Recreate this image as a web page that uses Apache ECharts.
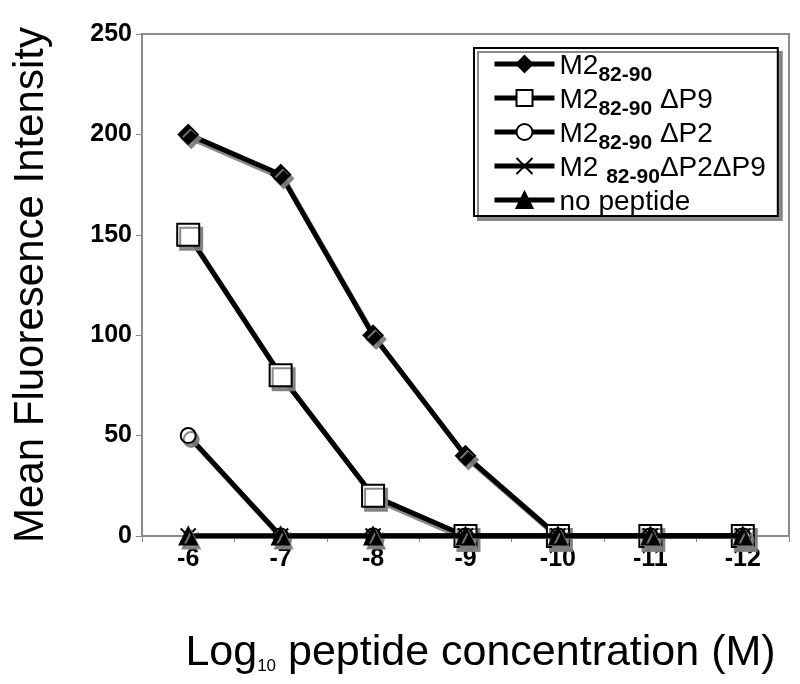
<!DOCTYPE html>
<html>
<head>
<meta charset="utf-8">
<script src="https://cdn.jsdelivr.net/npm/echarts@6/dist/echarts.min.js"></script>
<style>html,body{margin:0;padding:0;background:#fff}#c{width:800px;height:684px}</style>
</head>
<body>
<div id="c"></div>
<script>
const categories = ['-6', '-7', '-8', '-9', '-10', '-11', '-12'];
const seriesNames = ['M2 82-90', 'M2 82-90 ΔP9', 'M2 82-90 ΔP2', 'M2 82-90 ΔP2ΔP9', 'no peptide'];
const m2 = [200, 180, 100, 40, 0, 0, 0];
const m2dP9 = [150, 80, 20, 0, 0, 0, 0];
const m2dP2 = [50, 0, 0, 0, 0, 0, 0];
const m2dP2dP9 = [0, 0, 0, 0, 0, 0, 0];
const noPeptide = [0, 0, 0, 0, 0, 0, 0];
const yTicks = [0, 50, 100, 150, 200, 250];

const FONT = '"Liberation Sans", Arial, sans-serif';
const legendLabels = {
  'M2 82-90': '{a|M2}{s|82-90}',
  'M2 82-90 ΔP9': '{a|M2}{s|82-90}{a| ΔP9}',
  'M2 82-90 ΔP2': '{a|M2}{s|82-90}{a| ΔP2}',
  'M2 82-90 ΔP2ΔP9': '{a|M2 }{s|82-90}{a|ΔP2ΔP9}',
  'no peptide': '{a|no peptide}'
};
const shadow = {shadowColor: 'rgba(125,125,125,0.9)', shadowOffsetX: 3, shadowOffsetY: 4, shadowBlur: 0};
function mk(name, data, symbol, size, fill, z) {
  return {
    name, type: 'line', data, symbol, symbolSize: size, z,
    lineStyle: Object.assign({color: '#000', width: 5}, shadow),
    itemStyle: Object.assign({color: fill, borderColor: '#000', borderWidth: 2}, shadow),
    emphasis: {disabled: true},
    animation: false
  };
}
const chart = echarts.init(document.getElementById('c'), null, {renderer: 'canvas'});
chart.setOption({
  backgroundColor: '#fff',
  animation: false,
  grid: {left: 142, right: 11, top: 34, bottom: 148, show: true, borderColor: '#8a8a8a', borderWidth: 2},
  xAxis: {
    type: 'category', data: categories, boundaryGap: true,
    axisLine: {lineStyle: {color: '#8a8a8a', width: 2}},
    axisTick: {show: true, length: 6, lineStyle: {color: '#8a8a8a', width: 1}},
    axisLabel: {fontSize: 25, fontWeight: 'bold', color: '#000', fontFamily: FONT, margin: 11},
    name: 'Log{s|10} peptide concentration (M)',
    nameLocation: 'middle', nameGap: 96,
    nameTextStyle: {fontSize: 43, color: '#000', fontFamily: FONT, padding: [0, 0, 0, 30],
      rich: {s: {fontSize: 17, fontFamily: FONT, color: '#000', verticalAlign: 'bottom'}}}
  },
  yAxis: {
    type: 'value', min: 0, max: 250, interval: 50,
    axisLine: {show: true, lineStyle: {color: '#8a8a8a', width: 2}},
    axisTick: {show: true, length: 6, lineStyle: {color: '#8a8a8a', width: 1}},
    splitLine: {show: false},
    axisLabel: {fontSize: 25, fontWeight: 'bold', color: '#000', fontFamily: FONT, margin: 10,
      formatter: v => yTicks.includes(v) ? String(v) : ''},
    name: 'Mean Fluoresence Intensity',
    nameLocation: 'middle', nameGap: 90,
    nameTextStyle: {fontSize: 42, color: '#000', fontFamily: FONT}
  },
  legend: {
    left: 474, top: 48, orient: 'vertical',
    data: seriesNames,
    itemWidth: 60, itemHeight: 20, itemGap: 0,
    padding: [4, 12, 0, 18],
    backgroundColor: '#fff', borderColor: '#000', borderWidth: 2,
    shadowColor: 'rgba(125,125,125,0.9)', shadowOffsetX: 4, shadowOffsetY: 4, shadowBlur: 0,
    selectedMode: false,
    lineStyle: {width: 5, color: '#000'},
    formatter: n => legendLabels[n],
    textStyle: {
      color: '#000', fontFamily: FONT, fontSize: 28,
      rich: {
        a: {fontSize: 28, fontFamily: FONT, color: '#000', lineHeight: 24, verticalAlign: 'top'},
        s: {fontSize: 21, fontWeight: 'bold', fontFamily: FONT, color: '#000', lineHeight: 16, verticalAlign: 'top', padding: [13, 0, 0, 0]}
      }
    }
  },
  series: [
    mk(seriesNames[0], m2, 'diamond', 19, '#000', 2),
    mk(seriesNames[1], m2dP9, 'rect', 22, '#fff', 3),
    mk(seriesNames[2], m2dP2, 'circle', 15, '#fff', 4),
    mk(seriesNames[3], m2dP2dP9, 'path://M0,0L10,10M10,0L0,10', 15, 'none', 5),
    mk(seriesNames[4], noPeptide, 'triangle', 17, '#000', 6)
  ]
});
</script>
</body>
</html>
